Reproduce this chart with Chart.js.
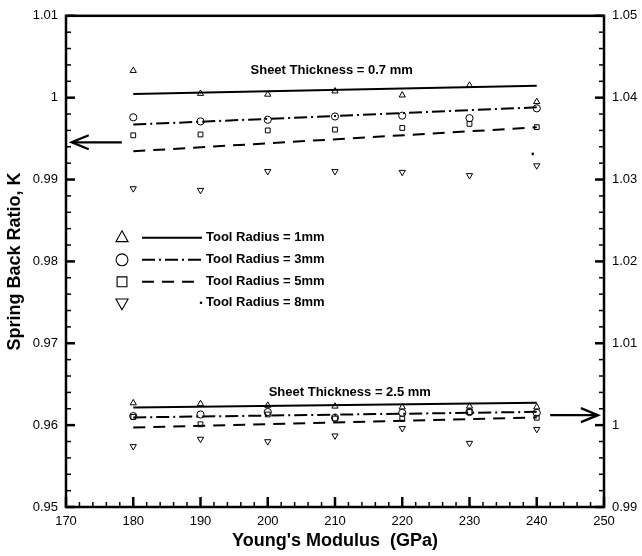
<!DOCTYPE html>
<html><head><meta charset="utf-8">
<script src="https://cdn.jsdelivr.net/npm/chart.js@4/dist/chart.umd.min.js"></script>
<style>html,body{margin:0;padding:0;background:#fff}canvas{display:block}</style>
</head><body>
<canvas id="c" width="642" height="556"></canvas>
<script>
// ---------- data ----------
const modulus = [180, 190, 200, 210, 220, 230, 240];
// Sheet thickness 0.7 mm (left axis)
const k07_r1 = [1.0033, 1.0005, 1.0004, 1.0008, 1.0003, 1.0015, 0.9995];
const k07_r3 = [0.9976, 0.9971, 0.9973, 0.9977, 0.9978, 0.9975, 0.9987];
const k07_r5 = [0.9954, 0.9955, 0.9960, 0.9961, 0.9963, 0.9968, 0.9964];
const k07_r8 = [0.9889, 0.9887, 0.9910, 0.9910, 0.9909, 0.9905, 0.9917];
// Sheet thickness 2.5 mm (right axis)
const k25_r1 = [1.0027, 1.0026, 1.0024, 1.0023, 1.0022, 1.0023, 1.0022];
const k25_r3 = [1.0011, 1.0013, 1.0016, 1.0009, 1.0015, 1.0016, 1.0015];
const k25_r5 = [1.0010, 1.0001, 1.0013, 1.0008, 1.0008, 1.0016, 1.0009];
const k25_r8 = [0.9974, 0.9983, 0.9980, 0.9987, 0.9996, 0.9978, 0.9995];
// fitted lines (end points)
const fitX = [180, 240];
const fit07_r1 = [1.00045, 1.00146];
const fit07_r3 = [0.99671, 0.99882];
const fit07_r5 = [0.99345, 0.99638];
const fit07_r8X = [239.4];
const fit07_r8 = [0.99313];
const fit25_r1 = [1.00216, 1.00272];
const fit25_r3 = [1.00094, 1.00162];
const fit25_r5 = [0.99972, 1.00094];
// axes
const xTicks = [170, 180, 190, 200, 210, 220, 230, 240, 250];
const yLeftTicks = [0.95, 0.96, 0.97, 0.98, 0.99, 1, 1.01];
const yRightTicks = [0.99, 1, 1.01, 1.02, 1.03, 1.04, 1.05];
const legendLabels = ['Tool Radius = 1mm', 'Tool Radius = 3mm', 'Tool Radius = 5mm', 'Tool Radius = 8mm'];
const notes = ['Sheet Thickness = 0.7 mm', 'Sheet Thickness = 2.5 mm'];
const xTitle = "Young's Modulus  (GPa)";
const yTitle = 'Spring Back Ratio, K';

// ---------- styles ----------
const FONT = "'Liberation Sans', Arial, sans-serif";
const styles = [
  {pointStyle: 'triangle', rotation: 0, radius: 3.6, dash: []},
  {pointStyle: 'circle', rotation: 0, radius: 3.6, dash: [13, 4, 2, 4]},
  {pointStyle: 'rect', rotation: 0, radius: 3.4, dash: [12, 8]},
  {pointStyle: 'triangle', rotation: 180, radius: 3.6, dash: [1, 60]}
];
function pts(xs, ys) { return xs.map((x, i) => ({x: x, y: ys[i]})); }
function markers(ys, s, axis) {
  return {data: pts(modulus, ys), yAxisID: axis, showLine: false,
    pointStyle: styles[s].pointStyle, rotation: styles[s].rotation,
    pointRadius: styles[s].radius, pointBorderWidth: 1,
    pointBorderColor: '#000', pointBackgroundColor: 'rgba(0,0,0,0)'};
}
function fitLine(xs, ys, s, axis) {
  return {data: pts(xs, ys), yAxisID: axis, showLine: true, pointRadius: 0,
    borderColor: '#000', borderWidth: 2, borderDash: styles[s].dash};
}
const datasets = [
  fitLine(fitX, fit07_r1, 0, 'y'), fitLine(fitX, fit07_r3, 1, 'y'), fitLine(fitX, fit07_r5, 2, 'y'),
  {data: pts(fit07_r8X, fit07_r8), yAxisID: 'y', showLine: false, pointStyle: 'circle', pointRadius: 1.3,
    pointBorderWidth: 0, pointBackgroundColor: '#000'},
  fitLine(fitX, fit25_r1, 0, 'y2'), fitLine(fitX, fit25_r3, 1, 'y2'), fitLine(fitX, fit25_r5, 2, 'y2'),
  markers(k07_r1, 0, 'y'), markers(k07_r3, 1, 'y'), markers(k07_r5, 2, 'y'), markers(k07_r8, 3, 'y'),
  markers(k25_r1, 0, 'y2'), markers(k25_r3, 1, 'y2'), markers(k25_r5, 2, 'y2'), markers(k25_r8, 3, 'y2')
];

function fmt(v) { return String(+Number(v).toFixed(2)); }

// ---------- decoration plugin ----------
function line(ctx, x1, y1, x2, y2) { ctx.beginPath(); ctx.moveTo(x1, y1); ctx.lineTo(x2, y2); ctx.stroke(); }
function symbol(ctx, s, x, y, r) {
  ctx.beginPath();
  if (s === 0 || s === 3) {
    const d = s === 0 ? 1 : -1;
    const h = r * 1.5, w = r * Math.sqrt(3) / 2 * 2;
    ctx.moveTo(x, y - d * r);
    ctx.lineTo(x + w / 2, y + d * r / 2 * 1.1);
    ctx.lineTo(x - w / 2, y + d * r / 2 * 1.1);
    ctx.closePath();
  } else if (s === 1) {
    ctx.arc(x, y, r * 0.85, 0, Math.PI * 2);
  } else {
    const a = r * 0.7;
    ctx.rect(x - a, y - a, 2 * a, 2 * a);
  }
  ctx.stroke();
}
const deco = {
  id: 'deco',
  afterDraw(chart) {
    const {ctx, chartArea: a, scales} = chart;
    const sx = scales.x, sy = scales.y, sy2 = scales.y2;
    ctx.save();
    ctx.strokeStyle = '#000'; ctx.fillStyle = '#000'; ctx.lineCap = 'butt';
    // ticks on x (bottom, inward)
    for (let i = 0; i <= 40; i++) {
      const v = 170 + 2 * i, px = sx.getPixelForValue(v), major = i % 5 === 0;
      ctx.lineWidth = major ? 2.5 : 1.5;
      line(ctx, px, a.bottom, px, a.bottom - (major ? 10 : 5));
    }
    // ticks on left and right y
    for (let i = 0; i <= 30; i++) {
      const major = i % 5 === 0;
      ctx.lineWidth = major ? 2.5 : 1.5;
      const pl = sy.getPixelForValue(0.95 + 0.002 * i);
      line(ctx, a.left, pl, a.left + (major ? 9 : 5), pl);
      const pr = sy2.getPixelForValue(0.99 + 0.002 * i);
      line(ctx, a.right, pr, a.right - (major ? 9 : 5), pr);
    }
    // frame
    ctx.lineWidth = 2.5;
    ctx.strokeRect(a.left, a.top, a.right - a.left, a.bottom - a.top);
    // arrows
    ctx.lineWidth = 2.3;
    const ly = sy.getPixelForValue(0.99455), lx1 = sx.getPixelForValue(170.85), lx2 = sx.getPixelForValue(178.3);
    line(ctx, lx1, ly, lx2, ly);
    ctx.beginPath(); ctx.moveTo(lx1 + 17, ly - 7); ctx.lineTo(lx1, ly); ctx.lineTo(lx1 + 17, ly + 7); ctx.stroke();
    const ry = sy2.getPixelForValue(1.00122), rx1 = sx.getPixelForValue(242), rx2 = sx.getPixelForValue(249.1);
    line(ctx, rx1, ry, rx2, ry);
    ctx.beginPath(); ctx.moveTo(rx2 - 17, ry - 7); ctx.lineTo(rx2, ry); ctx.lineTo(rx2 - 17, ry + 7); ctx.stroke();
    // notes
    ctx.font = 'bold 13px ' + FONT; ctx.textAlign = 'center'; ctx.textBaseline = 'middle';
    ctx.fillText(notes[0], sx.getPixelForValue(209.5), sy.getPixelForValue(1.00332));
    ctx.fillText(notes[1], sx.getPixelForValue(212.2), sy.getPixelForValue(0.96395));
    // legend
    const rows = [237, 259, 281, 302];
    const symX = a.left + 56, l1 = a.left + 76, l2 = a.left + 136, tx = a.left + 140;
    ctx.textAlign = 'left';
    for (let s = 0; s < 4; s++) {
      const yy = rows[s] - 15 + a.top;
      ctx.lineWidth = 1.1;
      symbol(ctx, s, symX, yy, 7);
      if (s < 3) {
        ctx.lineWidth = 2; ctx.setLineDash(styles[s].dash);
        line(ctx, l1, yy, l2, yy); ctx.setLineDash([]);
      } else {
        ctx.beginPath(); ctx.arc(l2 - 1, yy, 1.3, 0, Math.PI * 2); ctx.fill();
      }
      ctx.fillText(legendLabels[s], tx, yy);
    }
    ctx.restore();
  }
};

new Chart(document.getElementById('c'), {
  type: 'scatter',
  data: {datasets: datasets},
  plugins: [deco],
  options: {
    responsive: false, animation: false, devicePixelRatio: 1,
    layout: {padding: {top: 15, left: 0, right: 0, bottom: 0}},
    plugins: {legend: {display: false}, tooltip: {enabled: false}},
    scales: {
      x: {
        type: 'linear', position: 'bottom', min: 170, max: 250,
        afterBuildTicks: s => { s.ticks = xTicks.map(v => ({value: v})); },
        ticks: {font: {family: FONT, size: 13}, color: '#000', padding: 7, maxRotation: 0, autoSkip: false},
        grid: {display: false, drawTicks: false}, border: {display: false},
        title: {display: true, text: xTitle, color: '#000', font: {family: FONT, size: 18, weight: 'bold'}, padding: {top: 0, bottom: 4}},
        afterFit: s => { s.height = 49; }
      },
      y: {
        type: 'linear', position: 'left', min: 0.95, max: 1.01,
        afterBuildTicks: s => { s.ticks = yLeftTicks.map(v => ({value: v})); },
        ticks: {font: {family: FONT, size: 13}, color: '#000', padding: 8, callback: v => fmt(v), autoSkip: false},
        grid: {display: false, drawTicks: false}, border: {display: false},
        title: {display: true, text: yTitle, color: '#000', font: {family: FONT, size: 18, weight: 'bold'}, padding: {top: 4, bottom: 0}},
        afterFit: s => { s.width = 66; }
      },
      y2: {
        type: 'linear', position: 'right', min: 0.99, max: 1.05,
        afterBuildTicks: s => { s.ticks = yRightTicks.map(v => ({value: v})); },
        ticks: {font: {family: FONT, size: 13}, color: '#000', padding: 8, callback: v => fmt(v), autoSkip: false},
        grid: {display: false, drawTicks: false}, border: {display: false},
        afterFit: s => { s.width = 38; }
      }
    }
  }
});
</script>
</body></html>
